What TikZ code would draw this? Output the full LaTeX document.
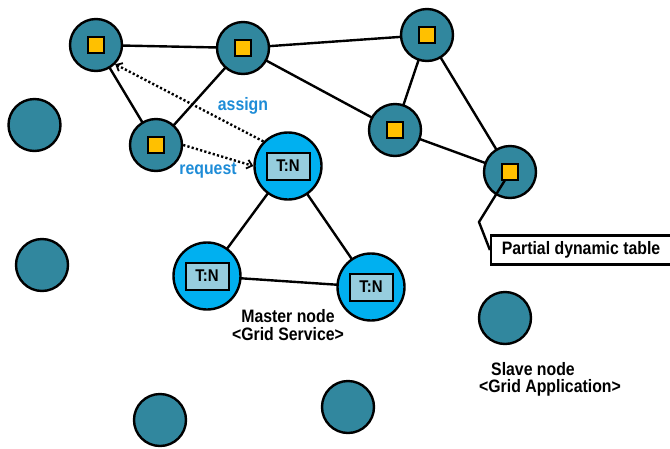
\documentclass[tikz,border=0pt]{standalone}
\usepackage{fontspec}
\setmainfont{Liberation Sans}[FakeStretch=0.88]
\usetikzlibrary{arrows.meta}
\definecolor{slavefill}{RGB}{49,135,158}
\definecolor{master}{RGB}{0,176,240}
\definecolor{tnbox}{RGB}{150,205,222}
\definecolor{sq}{RGB}{255,192,0}
\definecolor{lbl}{RGB}{30,140,215}
\begin{document}
\begin{tikzpicture}[x=1pt,y=-1pt,
  slave/.style={circle,draw=black,line width=2.4pt,fill=slavefill,minimum size=52pt,inner sep=0pt},
  mast/.style={circle,draw=black,line width=2.4pt,fill=master,minimum size=67pt,inner sep=0pt},
  sqr/.style={draw=black,line width=1.8pt,fill=sq,minimum size=15.5pt,inner sep=0pt},
  tn/.style={draw=black,line width=2pt,fill=tnbox,minimum width=43pt,minimum height=27pt,inner sep=0pt,font=\bfseries\fontsize{17}{17}\selectfont},
  edge/.style={line width=2.4pt},
  dots/.style={line width=2.4pt,dash pattern=on 2.2pt off 2.2pt,-{Straight Barb[length=5pt,width=9pt,line width=1.8pt]}},
  bl/.style={text=lbl,font=\bfseries\fontsize{18}{18}\selectfont},
  captxt/.style={font=\bfseries\fontsize{18}{18}\selectfont,align=center,inner sep=0pt}
]
\useasboundingbox (0,0) rectangle (670,448);
\coordinate (A) at (96,45);
\coordinate (B) at (243,48);
\coordinate (C) at (427,35);
\coordinate (D) at (156,145);
\coordinate (E) at (395,130);
\coordinate (F) at (510,172);
\coordinate (M1) at (288,166);
\coordinate (M2) at (207,276);
\coordinate (M3) at (371,287);
\draw[edge] (A) -- (B);
\draw[edge] (B) -- (C);
\draw[edge] (B) -- (E);
\draw[edge] (D) -- (A);
\draw[edge] (D) -- (B);
\draw[edge] (C) -- (E);
\draw[edge] (C) -- (F);
\draw[edge] (E) -- (F);
\draw[edge] (M1) -- (M2);
\draw[edge] (M1) -- (M3);
\draw[edge] (M2) -- (M3);
\node[slave] (nA) at (A) {};
\node[slave] (nB) at (B) {};
\node[slave] (nC) at (C) {};
\node[slave] (nD) at (D) {};
\node[slave] (nE) at (E) {};
\node[slave] (nF) at (F) {};
\node[slave] (i1) at (34.5,125) {};
\node[slave] (i2) at (42,265) {};
\node[slave] (i3) at (505,318) {};
\node[slave] (i4) at (160,420) {};
\node[slave] (i5) at (348,407) {};
\node[mast] (nM1) at (M1) {};
\node[mast] (nM2) at (M2) {};
\node[mast] (nM3) at (M3) {};
\node[sqr] (sA) at (A) {};
\node[sqr] (sB) at (B) {};
\node[sqr] (sC) at (C) {};
\node[sqr] (sD) at (D) {};
\node[sqr] (sE) at (E) {};
\node[tn] (t1) at (M1) {T:N};
\node[tn] (t2) at (M2) {T:N};
\node[tn] (t3) at (M3) {T:N};
\node[draw=black,line width=2.2pt,fill=white,minimum width=180pt,minimum height=29pt,inner sep=0pt,font=\bfseries\fontsize{18}{18}\selectfont] (tbl) at (581,250) {Partial dynamic table};
\coordinate (k) at (479,222);
\draw[edge] (F) -- (k) -- (tbl.west);
\node[sqr] (sF) at (F) {};
\draw[dots] (nM1.north west) -- (nA.south east);
\draw[dots] (nD.east) -- (nM1.west);
\node[bl] (la) at (243,106) {assign};
\node[bl] (lr) at (208,170) {request};
\node[captxt] (lm) at (288,325) {Master node\\{<}Grid Service{>}};
\node[captxt] (ls1) at (533,369) {Slave node};
\node[captxt] (ls2) at (550,388) {{<}Grid Application{>}};
\end{tikzpicture}
\end{document}
